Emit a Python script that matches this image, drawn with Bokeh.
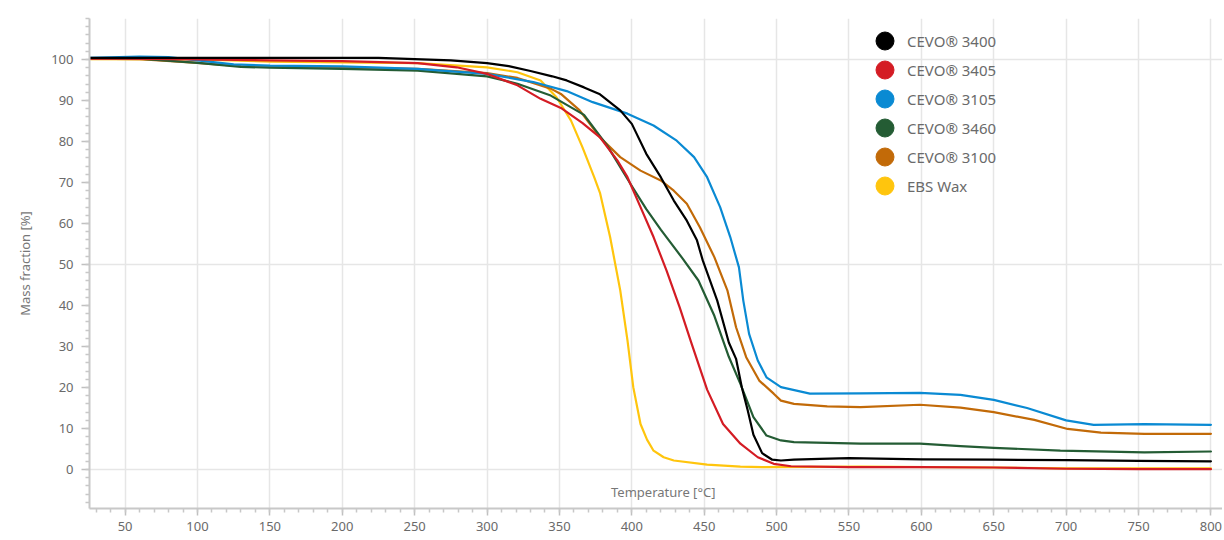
from bokeh.plotting import figure
from bokeh.models import FixedTicker, Legend, LegendItem, Label, Range1d
from bokeh.embed import file_html
from bokeh.resources import INLINE

# ---- data ----
names = ["CEVO® 3400", "CEVO® 3405", "CEVO® 3105", "CEVO® 3460", "CEVO® 3100", "EBS Wax"]
colors = ["#000000", "#d41c24", "#0a8ad3", "#245c34", "#c26a08", "#ffc50d"]

t_3400 = [25, 100, 150, 200, 225, 250, 275, 300, 315, 330, 345, 355, 367, 378, 392, 400, 410, 420, 429, 438,
          445, 449, 459, 467, 472, 476, 480, 484, 490, 497, 503, 512, 530, 550, 600, 650, 700, 750, 800]
m_3400 = [100.4, 100.4, 100.4, 100.4, 100.4, 100.1, 99.8, 99.1, 98.4, 97.2, 95.9, 94.9, 93.2, 91.5, 87.6, 84.3,
          77.0, 71.3, 65.6, 60.7, 55.9, 51.0, 41.2, 31.0, 27.0, 20.0, 14.5, 8.5, 4.0, 2.4, 2.2, 2.4, 2.6, 2.8,
          2.5, 2.4, 2.3, 2.1, 2.0]

t_3405 = [25, 50, 100, 150, 200, 252, 279, 300, 321, 337, 351, 366, 378, 390, 397, 406, 415, 424, 433, 441,
          452, 463, 475, 487, 498, 510, 550, 600, 650, 700, 750, 800]
m_3405 = [100.2, 100.2, 100.0, 99.8, 99.6, 99.1, 98.1, 96.5, 93.7, 90.4, 88.2, 84.5, 81.0, 75.4, 71.3, 64.0,
          56.7, 48.5, 39.6, 31.0, 19.5, 11.1, 6.3, 3.0, 1.4, 0.8, 0.6, 0.6, 0.5, 0.2, 0.1, 0.1]

t_3105 = [25, 60, 80, 100, 125, 150, 200, 252, 300, 332, 355, 373, 397, 415, 431, 443, 452, 461, 468, 474,
          477, 481, 487, 493, 503, 523, 558, 599, 627, 650, 673, 700, 719, 754, 800]
m_3105 = [100.4, 100.7, 100.6, 99.8, 98.8, 98.5, 98.3, 97.7, 96.5, 94.5, 92.3, 89.6, 86.8, 83.9, 80.2, 76.2,
          71.3, 64.0, 56.7, 49.3, 41.2, 33.1, 26.6, 22.5, 20.1, 18.5, 18.6, 18.7, 18.2, 17.0, 15.0, 12.0,
          10.9, 11.1, 10.9]

t_3460 = [25, 60, 100, 130, 150, 200, 252, 300, 321, 344, 367, 383, 399, 410, 420, 435, 446, 457, 467, 475,
          484, 493, 503, 512, 558, 599, 627, 650, 696, 754, 800]
m_3460 = [100.3, 100.2, 99.2, 98.2, 98.0, 97.7, 97.3, 95.9, 94.1, 91.2, 86.5, 79.0, 69.7, 63.5, 58.5, 51.5,
          46.1, 37.5, 27.5, 20.9, 12.8, 8.3, 7.1, 6.7, 6.3, 6.3, 5.7, 5.3, 4.6, 4.2, 4.4]

t_3100 = [25, 60, 100, 130, 150, 200, 252, 300, 321, 344, 351, 364, 378, 392, 406, 420, 429, 438, 447, 457,
          466, 472, 479, 488, 498, 503, 512, 535, 558, 599, 627, 650, 678, 701, 724, 754, 800]
m_3100 = [100.2, 100.1, 99.2, 98.4, 98.2, 98.0, 97.7, 96.7, 95.5, 92.9, 91.6, 87.6, 81.0, 76.2, 72.9, 70.5,
          68.0, 64.8, 59.1, 51.8, 43.7, 34.7, 27.4, 21.7, 18.5, 16.8, 16.0, 15.4, 15.2, 15.8, 15.1, 14.0,
          12.1, 9.9, 9.0, 8.7, 8.7]

t_ebs = [25, 100, 150, 200, 252, 300, 321, 337, 348, 358, 366, 374, 378, 385, 392, 397, 401, 406, 410.5, 415,
         422, 429, 452, 475, 490, 558, 650, 700, 750, 800]
m_ebs = [100.1, 100.0, 99.5, 99.3, 99.1, 98.1, 96.9, 94.9, 90.8, 85.1, 78.5, 71.3, 67.5, 56.7, 43.7, 31.5,
         20.1, 11.1, 7.3, 4.6, 3.0, 2.2, 1.2, 0.7, 0.6, 0.7, 0.5, 0.3, 0.3, 0.3]

x_major = list(range(50, 801, 50))
y_major = list(range(0, 101, 10))
y_grid = [0, 50, 100]

FONT = "Noto Sans"
GREY = "#6a6a6a"

p = figure(width=1222, height=538, output_backend="svg", toolbar_location=None,
           x_range=Range1d(25.4, 808), y_range=Range1d(-9.5, 110),
           min_border_left=89, min_border_top=18, min_border_right=0, min_border_bottom=30)
p.outline_line_color = None
p.background_fill_color = "white"

# grids
p.xgrid.ticker = FixedTicker(ticks=x_major)
p.ygrid.ticker = FixedTicker(ticks=y_grid)
for g in (p.xgrid, p.ygrid):
    g.grid_line_color = "#e6e6e6"
    g.grid_line_width = 1.5

# axes
p.xaxis.ticker = FixedTicker(ticks=x_major, minor_ticks=list(range(30, 811, 10)))
p.yaxis.ticker = FixedTicker(ticks=y_major, minor_ticks=list(range(-8, 111, 2)))
for ax in (p.xaxis, p.yaxis):
    ax.axis_line_color = "#c8c8c8"
    ax.axis_line_width = 2
    ax.major_tick_line_color = "#c0c0c0"
    ax.minor_tick_line_color = "#c8c8c8"
    ax.major_tick_line_width = 1.5
    ax.minor_tick_line_width = 1.5
    ax.major_tick_in = 0
    ax.minor_tick_in = 0
    ax.minor_tick_out = 4
    ax.major_label_text_font = FONT
    ax.major_label_text_font_size = "13px"
    ax.major_label_text_color = GREY
p.xaxis.major_tick_out = 7
p.xaxis.major_label_standoff = 6
p.yaxis.major_tick_out = 8
p.yaxis.major_label_standoff = 8
p.yaxis.axis_label = "Mass fraction [%]"
p.yaxis.axis_label_text_font = FONT
p.yaxis.axis_label_text_font_size = "13px"
p.yaxis.axis_label_text_font_style = "normal"
p.yaxis.axis_label_text_color = "#777777"
p.yaxis.axis_label_standoff = 14

p.add_layout(Label(x=421.7, y=-5.4, text="Temperature [°C]", text_align="center",
                   text_baseline="middle", text_font=FONT, text_font_size="13px",
                   text_color="#777777"))

# curves
series = [(t_3400, m_3400), (t_3405, m_3405), (t_3105, m_3105),
          (t_3460, m_3460), (t_3100, m_3100), (t_ebs, m_ebs)]
draw_order = [5, 4, 3, 2, 1, 0]
for i in draw_order:
    t, m = series[i]
    p.line(t, m, line_color=colors[i], line_width=2.2, line_join="round", line_cap="round")

# legend: one single-item legend per row so the dots can be large (18px) at a 29px pitch
nan = float("nan")
row_pitch = 29
for i, name in enumerate(names):
    r = p.scatter(x=[nan], y=[nan], marker="circle", size=18,
                  fill_color=colors[i], line_color=colors[i])
    lg = Legend(items=[LegendItem(label=name, renderers=[r])],
                location=(773, 445 - row_pitch * i), padding=0, margin=0,
                glyph_width=45, glyph_height=45, label_standoff=0,
                label_text_font=FONT, label_text_font_size="15px", label_text_color=GREY,
                border_line_alpha=0, background_fill_alpha=0)
    p.add_layout(lg)

open("out.html", "w").write(file_html(p, INLINE))
